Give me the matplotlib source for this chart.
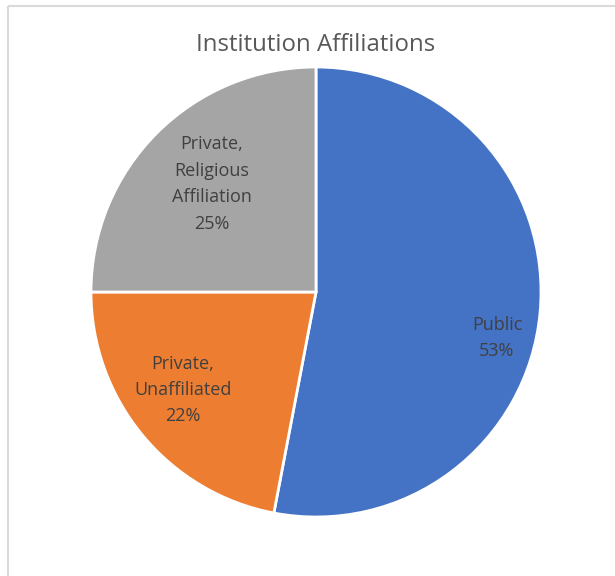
import matplotlib
matplotlib.use("Agg")
import matplotlib.pyplot as plt

# Share of institutions by affiliation type
categories = ["Public", "Private,\nUnaffiliated", "Private,\nReligious\nAffiliation"]
shares = [53, 22, 25]
colors = ["#4472C4", "#ED7D31", "#A5A5A5"]

W, H = 615, 576
fig = plt.figure(figsize=(W / 100, H / 100), dpi=100)
ax = fig.add_axes([0, 0, 1, 1])

# Chart frame (top and left edges visible)
ax.plot([8, W], [H - 6, H - 6], color="#d9d9d9", lw=1.5, solid_capstyle="butt")
ax.plot([8, 8], [H - 6, 0], color="#d9d9d9", lw=1.5, solid_capstyle="butt")

center = (316, H - 292)
radius = 225

wedges, texts = ax.pie(
    shares,
    labels=categories,
    colors=colors,
    startangle=90,
    counterclock=False,
    center=center,
    radius=radius,
    labeldistance=None,
    wedgeprops=dict(edgecolor="white", linewidth=2),
    frame=True,
)
ax.set_xlim(0, W)
ax.set_ylim(0, H)
ax.set_aspect("equal")
ax.axis("off")

# Data labels placed inside each slice: category name over percentage
label_pos = [(497, H - 338), (183, H - 390), (212, H - 184)]
font = ["Open Sans", "DejaVu Sans"]
for name, val, (x, y) in zip(categories, shares, label_pos):
    ax.text(x, y, f"{name}\n{val}%", ha="center", va="center",
            fontsize=13, color="#404040", family=font, linespacing=1.6)

ax.text(316, H - 45, "Institution Affiliations", ha="center", va="center",
        fontsize=17.3, color="#595959", family=font)

fig.savefig("out.png", dpi=100)
